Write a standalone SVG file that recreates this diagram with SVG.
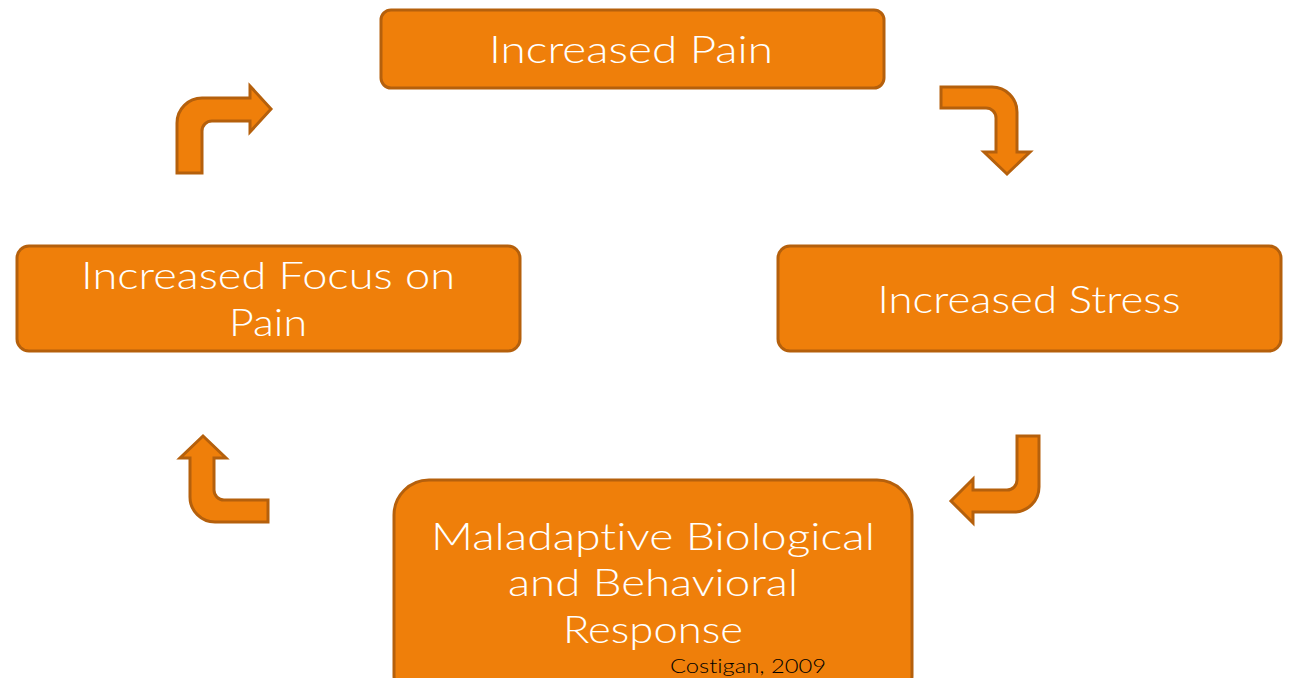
<svg xmlns="http://www.w3.org/2000/svg" width="1289" height="678" viewBox="0 0 1289 678">
<style>
.box{fill:#EF7F0A;stroke:#B5600C;stroke-width:3}
.arr{fill:#EF7F0A;stroke:#B5600C;stroke-width:3;stroke-linejoin:miter}
.t{font-family:Lato,"Liberation Sans",sans-serif;font-weight:300;font-size:37px;fill:#FFFFFF;text-anchor:middle;font-variant-ligatures:none;font-feature-settings:"liga" 0,"dlig" 0}
.c{font-family:Lato,"Liberation Sans",sans-serif;font-weight:300;font-size:19px;fill:#000000;font-variant-ligatures:none}
</style>
<rect width="1289" height="678" fill="#FFFFFF"/>
<g id="node-pain">
<rect class="box" x="381" y="10" width="503" height="78" rx="10"/>
<text class="t" x="631" y="63" textLength="284" lengthAdjust="spacingAndGlyphs">Increased Pain</text>
</g>
<g id="node-stress">
<rect class="box" x="778" y="246" width="503" height="105" rx="12"/>
<text class="t" x="1029" y="313" textLength="303" lengthAdjust="spacingAndGlyphs">Increased Stress</text>
</g>
<g id="node-response">
<rect class="box" x="394" y="480" width="518" height="230" rx="35"/>
<text class="t" x="653" y="550" textLength="444" lengthAdjust="spacingAndGlyphs">Maladap&#8204;tive Biological</text>
<text class="t" x="653" y="596" textLength="290" lengthAdjust="spacingAndGlyphs">and Behavioral</text>
<text class="t" x="653" y="643" textLength="180" lengthAdjust="spacingAndGlyphs">Response</text>
<text class="c" x="670" y="673" textLength="156" lengthAdjust="spacingAndGlyphs">Costigan, 2009</text>
</g>
<g id="node-focus">
<rect class="box" x="17" y="246" width="503" height="105" rx="12"/>
<text class="t" x="268" y="289" textLength="374" lengthAdjust="spacingAndGlyphs">Increased Focus on</text>
<text class="t" x="268" y="336" textLength="78" lengthAdjust="spacingAndGlyphs">Pain</text>
</g>
<g id="connectors">
<path class="arr" d="M177,173 L177,123 A25,25 0 0 1 202,98 L250,98 L250,86 L271,109 L250,132 L250,121 L212,121 A10,10 0 0 0 202,131 L202,173 Z"/>
<path class="arr" d="M941,87 L992,87 A25,25 0 0 1 1017,112 L1017,152 L1030,152 L1007,174 L984,152 L996,152 L996,118 A10,10 0 0 0 986,108 L941,108 Z"/>
<path class="arr" d="M1017,436 L1039,436 L1039,487 A25,25 0 0 1 1014,512 L973,512 L973,523 L951,501 L973,479 L973,490 L1007,490 A10,10 0 0 0 1017,480 Z"/>
<path class="arr" d="M268,522 L215,522 A25,25 0 0 1 190,497 L190,458 L180,458 L203,436 L226,458 L214,458 L214,490 A10,10 0 0 0 224,500 L268,500 Z"/>
</g>
</svg>
